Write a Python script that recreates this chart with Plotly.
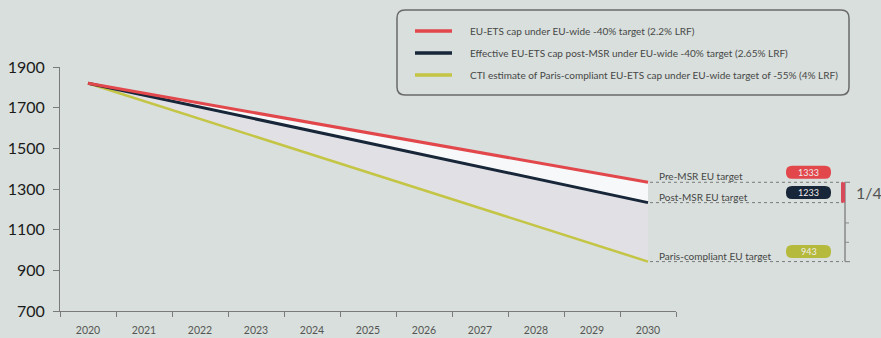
import plotly.graph_objects as go

# EU-ETS cap trajectories (MtCO2e), 2020-2030
years = [str(y) for y in range(2020, 2031)]
cap_2_2 = [1820, 1771, 1723, 1674, 1625, 1577, 1528, 1479, 1431, 1382, 1333]
cap_post_msr = [1820, 1761, 1703, 1644, 1585, 1527, 1468, 1409, 1350, 1292, 1233]
cap_paris = [1820, 1732, 1645, 1557, 1469, 1382, 1294, 1206, 1118, 1031, 943]

series_names = [
    "EU-ETS cap under EU-wide -40% target (2.2% LRF)",
    "Effective EU-ETS cap post-MSR under EU-wide -40% target (2.65% LRF)",
    "CTI estimate of Paris-compliant EU-ETS cap under EU-wide target of -55% (4% LRF)",
]
target_labels = ["Pre-MSR EU target", "Post-MSR EU target", "Paris-compliant EU target"]
y_ticks = [700, 900, 1100, 1300, 1500, 1700, 1900]

RED = "#e2474b"
NAVY = "#172638"
OLIVE = "#c4c544"
OLIVE_BADGE = "#b6ba3c"
BG = "#d8dfdc"
FONT = "Lato"

W, H = 881, 338
L, R, T, B = 60, 676, 67, 311  # plot area in pixels


def px(x):
    return (x - L) / (R - L)


def py(y):
    return (B - y) / (B - T)


def rounded_rect(x0, y0, x1, y1, r):
    """Rounded rectangle path, pixel coords -> paper coords."""
    pts = [
        ("M", x0 + r, y0), ("L", x1 - r, y0), ("Q", x1, y0, x1, y0 + r),
        ("L", x1, y1 - r), ("Q", x1, y1, x1 - r, y1), ("L", x0 + r, y1),
        ("Q", x0, y1, x0, y1 - r), ("L", x0, y0 + r), ("Q", x0, y0, x0 + r, y0),
    ]
    out = []
    for p in pts:
        cmd = p[0]
        coords = p[1:]
        s = []
        for i in range(0, len(coords), 2):
            s.append(f"{px(coords[i]):.5f},{py(coords[i + 1]):.5f}")
        out.append(cmd + " " + " ".join(s))
    return " ".join(out) + " Z"


fig = go.Figure()
fig.add_trace(go.Scatter(x=years, y=cap_paris, mode="lines", name=series_names[2],
                         line=dict(color=OLIVE, width=2.5), showlegend=False))
fig.add_trace(go.Scatter(x=years, y=cap_post_msr, mode="lines", name=series_names[1],
                         line=dict(color=NAVY, width=3), fill="tonexty",
                         fillcolor="#e1e0e5", showlegend=False))
fig.add_trace(go.Scatter(x=years, y=cap_2_2, mode="lines", name=series_names[0],
                         line=dict(color=RED, width=3), fill="tonexty",
                         fillcolor="#f6f8f9", showlegend=False))

shapes = []
annotations = []

# Legend box
shapes.append(dict(type="path", xref="paper", yref="paper",
                   path=rounded_rect(397, 10, 849, 95, 8),
                   line=dict(color="#6a6a6a", width=1.5), fillcolor=BG, layer="above"))
for i, (name, col) in enumerate(zip(series_names, [RED, NAVY, OLIVE])):
    yy = 31 + 22 * i
    shapes.append(dict(type="line", xref="paper", yref="paper",
                       x0=px(415), x1=px(452), y0=py(yy), y1=py(yy),
                       line=dict(color=col, width=3.5)))
    annotations.append(dict(xref="paper", yref="paper", x=px(468), y=py(yy),
                            xanchor="left", yanchor="middle", showarrow=False,
                            text=name, font=dict(family=FONT, size=10, color="#474747")))

# Targets: dotted guides, labels and value badges
end_vals = [cap_2_2[-1], cap_post_msr[-1], cap_paris[-1]]
badge_cols = [RED, NAVY, OLIVE_BADGE]
for lab, val, col in zip(target_labels, end_vals, badge_cols):
    shapes.append(dict(type="line", xref="paper", yref="y", x0=px(650), x1=px(843),
                       y0=val, y1=val, line=dict(color="#7a7a7a", width=1, dash="dot")))
    annotations.append(dict(xref="paper", yref="y", x=px(657), y=val, xanchor="left",
                            yanchor="bottom", showarrow=False, text=lab, yshift=-2,
                            font=dict(family=FONT, size=10, color="#474747")))
    yc = B - (val - 700) * (B - T) / 1200 - 10
    shapes.append(dict(type="path", xref="paper", yref="paper",
                       path=rounded_rect(786, yc - 6.5, 831, yc + 6.5, 6),
                       fillcolor=col, line=dict(width=0)))
    annotations.append(dict(xref="paper", yref="paper", x=px(808.5), y=py(yc),
                            xanchor="center", yanchor="middle", showarrow=False,
                            text=str(val), font=dict(family=FONT, size=9, color="#f0eded")))

# Bracket showing the share of the gap closed by the MSR
BRK = "#8a8a8a"
shapes.append(dict(type="line", xref="paper", yref="y", x0=px(845), x1=px(845),
                   y0=end_vals[2], y1=end_vals[0], line=dict(color=BRK, width=1.5)))
for v in [end_vals[0], end_vals[2]]:
    shapes.append(dict(type="line", xref="paper", yref="y", x0=px(845), x1=px(850),
                       y0=v, y1=v, line=dict(color=BRK, width=1.2)))
for v in [1133, 1038]:
    shapes.append(dict(type="line", xref="paper", yref="y", x0=px(845), x1=px(849),
                       y0=v, y1=v, line=dict(color=BRK, width=1)))
shapes.append(dict(type="line", xref="paper", yref="y", x0=px(843), x1=px(843),
                   y0=end_vals[1], y1=end_vals[0], line=dict(color="#d84a5a", width=4)))
annotations.append(dict(xref="paper", yref="y", x=px(854), y=(end_vals[0] + end_vals[1]) / 2,
                        xanchor="left", yanchor="middle", showarrow=False, text="1/4",
                        font=dict(family=FONT, size=16, color="#555555")))

fig.update_layout(
    width=W, height=H,
    margin=dict(l=L, r=W - R, t=T, b=H - B, autoexpand=False),
    paper_bgcolor=BG, plot_bgcolor=BG,
    showlegend=False,
    shapes=shapes, annotations=annotations,
    font=dict(family=FONT),
)
fig.update_xaxes(type="category", tickson="boundaries", ticks="outside", ticklen=5,
                 tickcolor="#7a7a7a", showline=True, linecolor="#7a7a7a", linewidth=1,
                 showgrid=False, zeroline=False, range=[-0.5, 10.5], ticklabelstandoff=9,
                 automargin=False,
                 tickfont=dict(family=FONT, size=10.5, color="#555555"))
fig.update_yaxes(range=[700, 1900], tickvals=y_ticks, ticks="outside", ticklen=6,
                 tickcolor="#7a7a7a", showline=True, linecolor="#7a7a7a", linewidth=1,
                 showgrid=False, zeroline=False, ticklabelstandoff=5, automargin=False,
                 tickfont=dict(family=FONT, size=16, color="#1a1a1a"))

fig.write_html("out.html")
